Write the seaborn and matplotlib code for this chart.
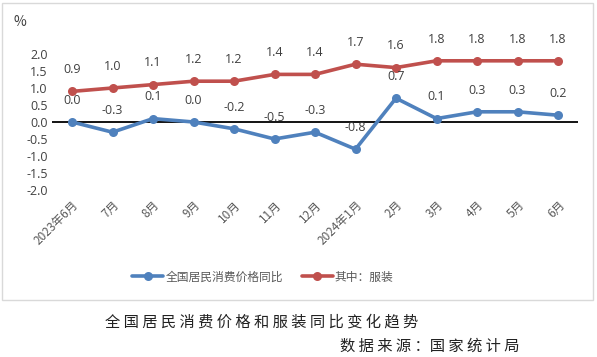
import numpy as np
import pandas as pd
import matplotlib.pyplot as plt
import seaborn as sns
from matplotlib.patches import Rectangle
from matplotlib.lines import Line2D

# 数据
months = ['2023年6月', '7月', '8月', '9月', '10月', '11月', '12月',
          '2024年1月', '2月', '3月', '4月', '5月', '6月']
cpi = [0.0, -0.3, 0.1, 0.0, -0.2, -0.5, -0.3, -0.8, 0.7, 0.1, 0.3, 0.3, 0.2]
clothing = [0.9, 1.0, 1.1, 1.2, 1.2, 1.4, 1.4, 1.7, 1.6, 1.8, 1.8, 1.8, 1.8]
series_names = ['全国居民消费价格同比', '其中：服装']
colors = ['#4F81BD', '#C0504D']

df = pd.DataFrame({'月份': months * 2,
                   '值': cpi + clothing,
                   '系列': [series_names[0]] * len(months) + [series_names[1]] * len(months)})
df['x'] = list(range(len(months))) * 2

sns.set_style('white')
plt.rcParams['font.family'] = ['Noto Sans CJK SC', 'DejaVu Sans']

fig = plt.figure(figsize=(5.97, 3.57), dpi=100)
ax = fig.add_axes([51.75 / 597, (357 - 190) / 357, 526.5 / 597, 136 / 357])

sns.lineplot(data=df, x='x', y='值', hue='系列', palette=colors, marker='o',
             markersize=6.5, markeredgewidth=0, linewidth=2.6, ax=ax, legend=False)

# 数据标签
for vals in [cpi, clothing]:
    for i, v in enumerate(vals):
        ax.annotate(f'{v:.1f}', (i, v), xytext=(0, 11), textcoords='offset points',
                    ha='center', va='bottom', fontsize=9, color='#404040',
                    family=['Open Sans', 'DejaVu Sans'])

ax.axhline(0, color='black', linewidth=1.3, zorder=1)
ax.set_xlim(-0.5, len(months) - 0.5)
ax.set_ylim(-2.0, 2.0)
ax.set_yticks(np.arange(-2.0, 2.01, 0.5))
ax.set_yticklabels([f'{t:.1f}' for t in np.arange(-2.0, 2.01, 0.5)],
                   family=['Open Sans', 'DejaVu Sans'], fontsize=9, color='#404040')
ax.set_xticks(range(len(months)))
ax.set_xticklabels(months, rotation=45, ha='right', rotation_mode='anchor',
                   fontsize=8.5, color='#595959')
ax.tick_params(axis='both', length=0, pad=3)
ax.tick_params(axis='x', pad=6)
ax.set_xlabel('')
ax.set_ylabel('')
for s in ax.spines.values():
    s.set_visible(False)
ax.grid(False)

fig.text(14 / 597, 1 - 22 / 357, '%', fontsize=10, color='#404040', va='center')

# 图例
handles = [Line2D([0], [0], color=c, lw=2.6, marker='o', markersize=6.5, markeredgewidth=0)
           for c in colors]
fig.legend(handles, series_names, loc='center', bbox_to_anchor=(263 / 597, 1 - 277 / 357),
           ncol=2, frameon=False, fontsize=8.5, handlelength=2.6, columnspacing=1.6,
           labelcolor='#595959', handletextpad=0.2)

# 外框
fig.patches.append(Rectangle((2 / 597, 1 - 300 / 357), 591 / 597, 297 / 357,
                             transform=fig.transFigure, fill=False,
                             edgecolor='#D9D9D9', linewidth=1))

fig.text(262 / 597, 1 - 322 / 357, '全 国 居 民 消 费 价 格 和 服 装 同 比 变 化 趋 势',
         ha='center', va='center', fontsize=11, color='#222222')
fig.text(519 / 597, 1 - 346 / 357, '数 据 来 源 ：国 家 统 计 局',
         ha='right', va='center', fontsize=11, color='#222222')

fig.savefig('out.png', dpi=100)
